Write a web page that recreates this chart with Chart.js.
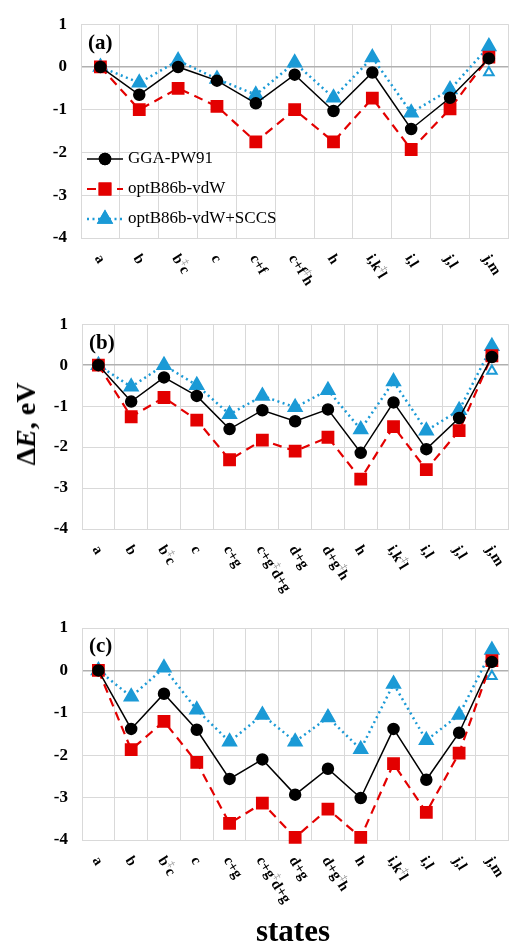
<!DOCTYPE html>
<html>
<head>
<meta charset="utf-8">
<title>Relative energies of states</title>
<script src="https://cdn.jsdelivr.net/npm/chart.js@4.4.0/dist/chart.umd.min.js"></script>
<style>
  body { margin: 0; background: #fff; }
  #wrap { position: relative; width: 518px; height: 943px; overflow: hidden; font-family: "Liberation Serif", serif; }
  canvas { position: absolute; left: 0; }
  #ytitle { position: absolute; left: 26px; top: 424px; transform: translate(-50%, -50%) rotate(-90deg);
            font-weight: bold; font-size: 28px; white-space: nowrap; }
  #xtitle { position: absolute; left: 293px; top: 913px; transform: translateX(-50%);
            font-weight: bold; font-size: 31px; white-space: nowrap; }
</style>
</head>
<body>
<div id="wrap">
  <canvas id="chartA" width="518" height="300" style="top:0px"></canvas>
  <canvas id="chartB" width="518" height="300" style="top:300px"></canvas>
  <canvas id="chartC" width="518" height="353" style="top:590px"></canvas>
  <div id="ytitle">Δ<i>E</i>, eV</div>
  <div id="xtitle">states</div>
</div>

<script>
// states (‡ = transition between two states)
const statesA = ['a', 'b', 'b‡c', 'c', 'c+f', 'c+f‡h', 'h', 'i,k‡l', 'i,l', 'j,l', 'j,m'];
const statesBC = ['a', 'b', 'b‡c', 'c', 'c+g', 'c+g‡d+g', 'd+g', 'd+g‡h', 'h', 'i,k‡l', 'i,l', 'j,l', 'j,m'];

// panel (a)
const pw91A = [0, -0.65, 0, -0.32, -0.85, -0.18, -1.03, -0.13, -1.45, -0.72, 0.2];
const vdwA  = [0, -1.0, -0.5, -0.92, -1.75, -1.0, -1.75, -0.73, -1.93, -0.98, 0.23];
const sccsA = [0, -0.37, 0.15, -0.28, -0.65, 0.1, -0.72, 0.22, -1.07, -0.53, 0.48];
const openA = -0.13;

// panel (b)
const pw91B = [0, -0.89, -0.3, -0.75, -1.56, -1.1, -1.37, -1.08, -2.14, -0.91, -2.05, -1.29, 0.2];
const vdwB  = [0, -1.26, -0.79, -1.34, -2.31, -1.83, -2.1, -1.76, -2.78, -1.5, -2.55, -1.6, 0.23];
const sccsB = [0, -0.53, 0, -0.49, -1.2, -0.75, -1.03, -0.61, -1.57, -0.4, -1.6, -1.1, 0.46];
const openB = -0.14;

// panel (c)
const pw91C = [0, -1.38, -0.55, -1.4, -2.56, -2.1, -2.93, -2.32, -3.01, -1.38, -2.58, -1.47, 0.2];
const vdwC  = [0, -1.87, -1.2, -2.17, -3.61, -3.13, -3.94, -3.27, -3.94, -2.2, -3.35, -1.95, 0.23];
const sccsC = [0, -0.62, 0.06, -0.93, -1.68, -1.05, -1.68, -1.11, -1.86, -0.32, -1.65, -1.05, 0.48];
const openC = -0.14;

const yTicks = [1, 0, -1, -2, -3, -4];
const seriesNames = ['GGA-PW91', 'optB86b-vdW', 'optB86b-vdW+SCCS'];

const RED = '#e30000';
const BLUE = '#1b9ad6';
const GRID = '#d9d9d9';
const SERIF = '"Liberation Serif", "Times New Roman", serif';

// x labels rotated clockwise, with a small grey ‡
const labelPlugin = {
    id: 'stateLabels',
    afterDraw(chart) {
        const ctx = chart.ctx;
        const x = chart.scales.x;
        const bottom = chart.chartArea.bottom;
        chart.data.labels.forEach((lab, i) => {
            const px = x.getPixelForValue(i);
            ctx.save();
            ctx.translate(px - 3, bottom + 18);
            ctx.rotate(Math.PI / 180 * 58);
            ctx.textBaseline = 'middle';
            ctx.textAlign = 'left';
            const parts = lab.split('‡');
            ctx.font = 'bold 15px ' + SERIF;
            ctx.fillStyle = '#000';
            ctx.fillText(parts[0], 0, 0);
            let pos = ctx.measureText(parts[0]).width;
            if (parts.length > 1) {
                ctx.font = '10px ' + SERIF;
                ctx.fillStyle = '#888';
                ctx.fillText('‡', pos, -5);
                pos += ctx.measureText('‡').width;
                ctx.font = 'bold 15px ' + SERIF;
                ctx.fillStyle = '#000';
                ctx.fillText(parts[1], pos, 0);
            }
            ctx.restore();
        });
        // panel tag
        ctx.save();
        ctx.font = 'bold 21px ' + SERIF;
        ctx.fillStyle = '#000';
        ctx.textBaseline = 'middle';
        ctx.fillText(chart.options.plugins.stateLabels.tag, chart.chartArea.left + 7, chart.chartArea.top + 19);
        ctx.restore();
    }
};

// legend inside panel (a): line sample with marker in the middle
const legendPlugin = {
    id: 'innerLegend',
    afterDraw(chart) {
        const opts = chart.options.plugins.innerLegend;
        if (!opts || !opts.show) return;
        const ctx = chart.ctx;
        const x1 = chart.chartArea.left + 6, x2 = x1 + 36;
        seriesNames.forEach((name, i) => {
            const ds = chart.data.datasets[i];
            const y = 159 + i * 30;
            ctx.save();
            ctx.strokeStyle = ds.borderColor;
            ctx.lineWidth = ds.borderWidth;
            ctx.setLineDash(ds.borderDash || []);
            ctx.beginPath();
            ctx.moveTo(x1, y);
            ctx.lineTo(x2, y);
            ctx.stroke();
            ctx.setLineDash([]);
            Chart.helpers.drawPoint(ctx, {
                pointStyle: ds.pointStyle, radius: ds.pointRadius, borderWidth: 1, rotation: 0
            }, (x1 + x2) / 2, y);
            ctx.fillStyle = ds.pointBackgroundColor;
            ctx.strokeStyle = ds.pointBorderColor;
            ctx.fill();
            ctx.stroke();
            ctx.fillStyle = '#000';
            ctx.font = '17px ' + SERIF;
            ctx.textBaseline = 'middle';
            ctx.fillText(name, x2 + 5, y);
            ctx.restore();
        });
    }
};

function makePanel(id, states, pw91, vdw, sccs, openVal, tag, pad, yWidth, legend) {
    const openData = states.map((s, i) => i === states.length - 1 ? openVal : null);
    return new Chart(document.getElementById(id), {
        type: 'line',
        data: {
            labels: states,
            datasets: [
                {
                    label: seriesNames[0], data: pw91,
                    borderColor: '#000', borderWidth: 1.5,
                    pointStyle: 'circle', pointRadius: 5.5,
                    pointBackgroundColor: '#000', pointBorderColor: '#000',
                    tension: 0, clip: false
                },
                {
                    label: seriesNames[1], data: vdw,
                    borderColor: RED, borderWidth: 2.2, borderDash: [9, 6],
                    pointStyle: 'rect', pointRadius: 7.5,
                    pointBackgroundColor: RED, pointBorderColor: RED,
                    tension: 0, clip: false
                },
                {
                    label: seriesNames[2], data: sccs,
                    borderColor: BLUE, borderWidth: 2.5, borderDash: [2, 3.5],
                    pointStyle: 'triangle', pointRadius: 7,
                    pointBackgroundColor: BLUE, pointBorderColor: BLUE,
                    tension: 0, clip: false
                },
                {
                    label: 'open', data: openData, showLine: false,
                    pointStyle: 'triangle', pointRadius: 5.5, pointBorderWidth: 2,
                    pointBackgroundColor: '#fff', pointBorderColor: BLUE,
                    clip: false
                }
            ]
        },
        options: {
            responsive: false,
            animation: false,
            layout: { padding: pad },
            plugins: {
                legend: { display: false },
                tooltip: { enabled: false },
                stateLabels: { tag: tag },
                innerLegend: { show: legend }
            },
            scales: {
                x: {
                    offset: true,
                    grid: { color: GRID, offset: true, drawTicks: false, lineWidth: 1 },
                    border: { color: GRID },
                    ticks: { display: false }
                },
                y: {
                    min: -4, max: 1,
                    afterFit: s => { s.width = yWidth; },
                    afterBuildTicks: s => { s.ticks = yTicks.map(v => ({ value: v })); },
                    grid: {
                        drawTicks: false,
                        color: c => c.tick && c.tick.value === 0 ? '#b0b0b0' : GRID,
                        lineWidth: c => c.tick && c.tick.value === 0 ? 1.5 : 1
                    },
                    border: { color: GRID },
                    ticks: {
                        padding: 14,
                        color: '#000',
                        font: { family: SERIF, size: 17, weight: 'bold' }
                    }
                }
            }
        },
        plugins: [labelPlugin, legendPlugin]
    });
}

makePanel('chartA', statesA, pw91A, vdwA, sccsA, openA, '(a)', { top: 23, bottom: 62, left: 0, right: 3 }, 81, true);
makePanel('chartB', statesBC, pw91B, vdwB, sccsB, openB, '(b)', { top: 17, bottom: 71, left: 0, right: 3 }, 82, false);
makePanel('chartC', statesBC, pw91C, vdwC, sccsC, openC, '(c)', { top: 38, bottom: 103, left: 0, right: 3 }, 82, false);
</script>
</body>
</html>
